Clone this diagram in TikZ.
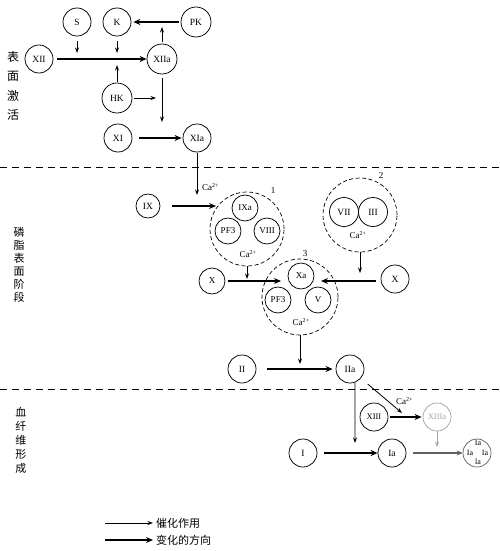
\documentclass[tikz,border=0pt]{standalone}
\usepackage{fontspec}
\setmainfont{Liberation Serif}
\newfontfamily\cjk{Noto Sans CJK SC}
\usetikzlibrary{arrows.meta}
\begin{document}
\begin{tikzpicture}[x=1pt,y=-1pt,
  fac/.style={circle,draw,line width=0.75pt,inner sep=0pt,minimum size=28pt,font=\fontsize{9.5}{10}\selectfont},
  sfac/.style={fac,minimum size=26pt,font=\fontsize{9}{10}\selectfont},
  cplx/.style={circle,draw,dash pattern=on 4pt off 2.5pt,line width=0.7pt,minimum size=74pt,inner sep=0pt},
  cat/.style={line width=0.8pt,-{Stealth[length=5.5pt,width=4pt]}},
  chg/.style={line width=2.2pt,-{Stealth[length=7pt,width=6pt]}},
  lbl/.style={font=\fontsize{9}{10}\selectfont,inner sep=0pt},
  side/.style={align=center,inner sep=0pt},
  sep/.style={line width=0.7pt,dash pattern=on 7pt off 5pt},
  faded/.style={draw=gray!70,text=gray!70}
]
\useasboundingbox (0,0) rectangle (500,551);

% separators
\draw[sep] (0,167) -- (500,167);
\draw[sep] (0,389) -- (500,389);

% side labels
\node[side,font=\cjk\fontsize{12}{19.5}\selectfont] (lab1) at (13,86) {表\\面\\激\\活};
\node[side,font=\cjk\fontsize{11}{13}\selectfont] (lab2) at (19,264.5) {磷\\脂\\表\\面\\阶\\段};
\node[side,font=\cjk\fontsize{11}{14}\selectfont] (lab3) at (21,440) {血\\纤\\维\\形\\成};

% surface activation
\node[fac] (s) at (77,22) {S};
\node[fac] (k) at (117,22) {K};
\node[fac,minimum size=30pt] (pk) at (196,22) {PK};
\node[fac] (xii) at (39,59) {XII};
\node[fac,minimum size=30pt] (xiia) at (162,59) {XIIa};
\node[fac,minimum size=30pt] (hk) at (117,98) {HK};
\node[fac] (xi) at (118,138) {XI};
\node[fac] (xia) at (197,138) {XIa};

\coordinate (sT) at (77,53);
\coordinate (kT) at (117,53);
\coordinate (hkT) at (117,65);
\coordinate (upT) at (162,27);
\coordinate (hkR) at (156,98);
\coordinate (dnT) at (162,122);
\coordinate (ixT) at (197,195);

\draw[cat,shorten <=5pt] (s) -- (sT);
\draw[cat,shorten <=5pt] (k) -- (kT);
\draw[chg,shorten <=4pt] (xii) -- (xiia);
\draw[cat,shorten <=1pt] (hk) -- (hkT);
\draw[chg,shorten <=2pt,shorten >=2pt] (pk) -- (k);
\draw[cat,shorten <=2pt] (xiia) -- (upT);
\draw[cat,shorten <=2pt] (hk) -- (hkR);
\draw[cat,shorten <=4pt] (xiia) -- (dnT);
\draw[chg,shorten <=7pt,shorten >=1pt] (xi) -- (xia);
\draw[cat,shorten <=1pt] (xia) -- (ixT);
\node[lbl,anchor=west] (ca0) at (202,187) {Ca\textsuperscript{2+}};

% phospholipid surface stage
\node[fac,minimum size=24pt] (ix) at (148,206) {IX};
\node[cplx] (c1) at (247,229) {};
\node[sfac] (ixa) at (245,208) {IXa};
\node[sfac] (pf3a) at (228,231) {PF3};
\node[sfac] (viii) at (267,231) {VIII};
\node[lbl] (ca1) at (248,254) {Ca\textsuperscript{2+}};
\node[lbl] (n1) at (273,191) {1};

\node[cplx] (c2) at (360,215) {};
\node[fac,minimum size=29pt] (vii) at (344,212) {VII};
\node[fac,minimum size=29pt] (iii) at (373,212) {III};
\node[lbl] (ca2) at (358,235) {Ca\textsuperscript{2+}};
\node[lbl] (n2) at (381,176) {2};

\node[cplx,minimum size=76pt] (c3) at (300,297) {};
\node[sfac] (xa) at (301,276) {Xa};
\node[sfac] (pf3b) at (278,300) {PF3};
\node[sfac] (v) at (318,300) {V};
\node[lbl] (ca3) at (301,322) {Ca\textsuperscript{2+}};
\node[lbl] (n3) at (305,254) {3};

\node[sfac] (xl) at (212,281) {X};
\node[fac] (xr) at (395,279) {X};

\coordinate (c1in) at (216,206);
\coordinate (c1T) at (247,279);
\coordinate (c2T) at (360,273);
\coordinate (xlT) at (281,281);
\coordinate (xrT) at (321,281);
\coordinate (xrS) at (376,281);
\coordinate (c3T) at (300,364);

\draw[chg,shorten <=12pt] (ix) -- (c1in);
\draw[cat] (c1) -- (c1T);
\draw[cat] (c2) -- (c2T);
\draw[chg,shorten <=3pt] (xl.east |- xlT) -- (xlT);
\draw[chg] (xrS) -- (xrT);
\draw[cat] (c3) -- (c3T);

% thrombin
\node[fac] (ii) at (242,369) {II};
\node[fac] (iia) at (350,369) {IIa};
\draw[chg,shorten <=11pt,shorten >=3pt] (ii) -- (iia);

% fibrin formation
\node[fac,font=\fontsize{8.5}{10}\selectfont] (xiii) at (374,417) {XIII};
\node[fac,faded,font=\fontsize{8.5}{10}\selectfont] (xiiia) at (437,417) {XIIIa};
\node[fac] (i) at (303,453) {I};
\node[fac] (ia) at (392,453) {Ia};
\node[fac,draw=gray!80!black] (iac) at (477,453) {};
\node[lbl,font=\fontsize{8}{8}\selectfont] (iac1) at (478,443) {Ia};
\node[lbl,font=\fontsize{8}{8}\selectfont] (iac2) at (470,453) {Ia};
\node[lbl,font=\fontsize{8}{8}\selectfont] (iac3) at (485,453) {Ia};
\node[lbl,font=\fontsize{8}{8}\selectfont] (iac4) at (478,462) {la};

\coordinate (iaT) at (355,443);
\coordinate (dgT) at (402,413);
\coordinate (xiiiT) at (437,447);

\draw[cat] (iia.-70) -- (iaT);
\draw[cat,shorten <=9pt] (iia) -- (dgT);
\node[lbl,anchor=west] (ca4) at (396,401) {Ca\textsuperscript{2+}};
\draw[chg,shorten <=2pt,shorten >=1pt] (xiii) -- (xiiia);
\draw[cat,gray!70] (xiiia) -- (xiiiT);
\draw[chg,shorten <=7pt] (i) -- (ia);
\draw[line width=1.8pt,gray!75!black,-{Stealth[length=6pt,width=5pt]},shorten <=7pt] (ia) -- (iac);

% legend
\coordinate (lg1a) at (105,523);
\coordinate (lg1b) at (153,523);
\coordinate (lg2a) at (105,540);
\coordinate (lg2b) at (153,540);
\draw[cat] (lg1a) -- (lg1b);
\draw[chg] (lg2a) -- (lg2b);
\node[anchor=west,inner sep=0pt,font=\cjk\fontsize{11}{12}\selectfont] (lgt1) at (156,523) {催化作用};
\node[anchor=west,inner sep=0pt,font=\cjk\fontsize{11}{12}\selectfont] (lgt2) at (156,540) {变化的方向};
\end{tikzpicture}
\end{document}
